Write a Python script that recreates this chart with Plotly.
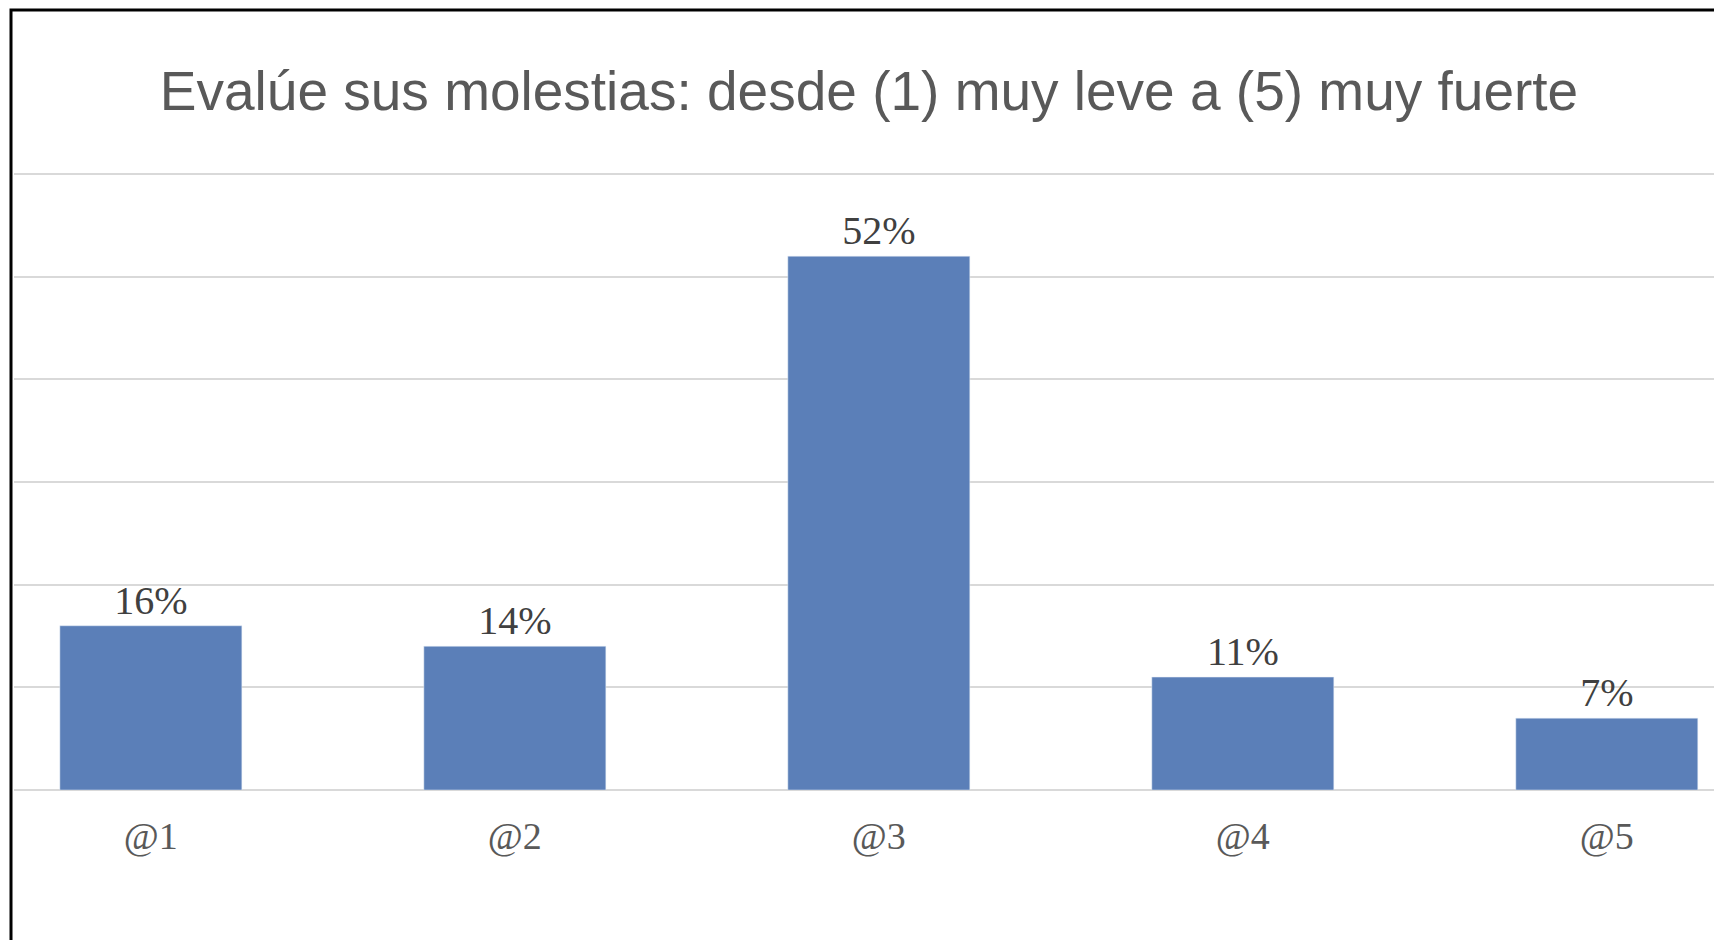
import plotly.graph_objects as go

categorias = ['@1', '@2', '@3', '@4', '@5']
porcentajes = [16, 14, 52, 11, 7]
etiquetas = ['16%', '14%', '52%', '11%', '7%']

fig = go.Figure(go.Bar(
    x=list(range(len(categorias))), y=porcentajes,
    text=etiquetas, textposition='outside', cliponaxis=False,
    textfont=dict(family='Liberation Serif', size=40, color='#404040'),
    marker=dict(color='#5b7fb8'),
))

fig.update_layout(
    width=1722, height=940,
    margin=dict(l=6, r=6, t=164, b=158),
    plot_bgcolor='white', paper_bgcolor='white',
    bargap=0.5, showlegend=False,
    title=dict(text='Evalúe sus molestias: desde (1) muy leve a (5) muy fuerte',
               x=0.5, y=0.912, xanchor='center', yanchor='middle',
               font=dict(family='Liberation Sans', size=55, color='#595959')),
)
fig.update_layout(shapes=[dict(type='rect', xref='paper', yref='paper',
                               x0=-3/1710, x1=1713/1710,
                               y0=-154/618, y1=162/618 + 1,
                               line=dict(color='black', width=3))])
fig.update_xaxes(tickvals=list(range(len(categorias))), ticktext=categorias,
                 range=[-0.376, 4.322], showgrid=False, zeroline=False,
                 tickfont=dict(family='Liberation Serif', size=38, color='#595959'),
                 ticklabelstandoff=20)
fig.update_yaxes(range=[0, 60.2], dtick=10, showticklabels=False,
                 gridcolor='#d9d9d9', gridwidth=2, zeroline=True,
                 zerolinecolor='#d9d9d9', zerolinewidth=2)

fig.write_html('out.html')
